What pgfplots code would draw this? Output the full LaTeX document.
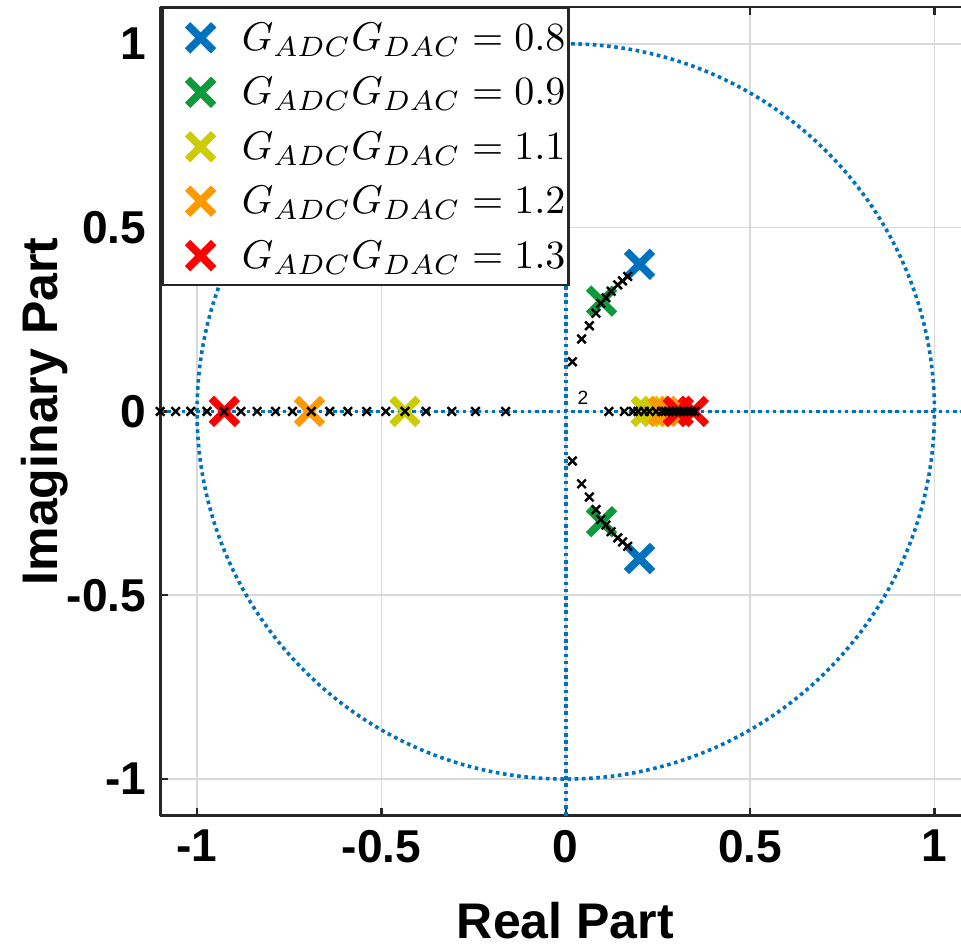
\documentclass[border=0pt]{standalone}
\usepackage{fontspec}
\setmainfont{Liberation Sans}
\usepackage{pgfplots}
\pgfplotsset{compat=1.18}
\definecolor{mblue}{HTML}{0072BD}
\definecolor{mgreen}{HTML}{0C9A3A}
\definecolor{myellow}{HTML}{CCCC00}
\definecolor{morange}{HTML}{FF9900}
\definecolor{mred}{HTML}{FF0000}
\tikzset{ref line/.style={mblue, line width=0.9pt, dash pattern=on 0.9pt off 0.9pt}}
\pgfplotsset{
  bigx/.style={only marks, mark=x, mark size=4.6pt, line width=1.9pt, color=#1},
  smallx/.style={only marks, mark=x, mark size=1.5pt, line width=0.6pt, color=black},
}
\begin{document}
\begin{tikzpicture}
\begin{axis}[
  scale only axis,
  width=200pt, height=202pt,
  xmin=-1.1, xmax=1.072, ymin=-1.1, ymax=1.1,
  axis x line*=box, axis y line*=left,
  axis line style={black!85, line width=0.7pt},
  y axis line style={-},
  xtick={-1,-0.5,0,0.5,1}, ytick={-1,-0.5,0,0.5,1},
  tick align=inside, major tick length=2pt,
  tick style={black!85, line width=0.6pt},
  grid=major, grid style={black!15, line width=0.4pt},
  /pgf/number format/assume math mode=true,
  ticklabel style={font=\fontsize{11.5}{13}\selectfont\bfseries},
  xlabel={Real Part}, ylabel={Imaginary Part},
  label style={font=\fontsize{12.5}{14}\selectfont\bfseries},
  xlabel style={at={(axis description cs:0.506,-0.13)}, anchor=center},
  ylabel style={at={(axis description cs:-0.144,0.5)}, anchor=center},
  legend style={at={(axis description cs:0.0015,1)}, anchor=north west,
    draw=black!85, line width=0.6pt, fill=white,
    inner xsep=0.8pt, inner ysep=0.6pt, column sep=5pt,
    font=\fontsize{9.85}{12}\selectfont,
    nodes={text height=8.7pt, text depth=2.5pt, inner ysep=1.2pt, inner xsep=0pt}},
  legend image code/.code={%
    \path[draw=none, fill=none] (0pt,0pt) -- (14pt,0pt);
    \draw[#1] plot coordinates {(8.7pt,0pt)};},
  legend cell align=left,
]
% unit circle and the two axes (zplane style)
\draw[ref line] (axis cs:0,0) ellipse [x radius=1, y radius=1];
\addplot[ref line, forget plot] coordinates {(-1.1,0) (1.072,0)};
\addplot[ref line, forget plot] coordinates {(0,-1.1) (0,1.1)};

% closed-loop poles for each gain
\addplot[bigx=mblue] coordinates {(0.2,0.4) (0.2,-0.4)};
\addlegendentry{$G_{ADC}G_{DAC}=0.8$}
\addplot[bigx=mgreen] coordinates {(0.097,0.30) (0.097,-0.30)};
\addlegendentry{$G_{ADC}G_{DAC}=0.9$}
\addplot[bigx=myellow] coordinates {(-0.436,0) (0.218,0) (0.245,0)};
\addlegendentry{$G_{ADC}G_{DAC}=1.1$}
\addplot[bigx=morange] coordinates {(-0.695,0) (0.264,0) (0.29,0)};
\addlegendentry{$G_{ADC}G_{DAC}=1.2$}
\addplot[bigx=mred] coordinates {(-0.926,0) (0.305,0) (0.346,0)};
\addlegendentry{$G_{ADC}G_{DAC}=1.3$}

% root locus samples
\addplot[smallx, forget plot] coordinates {
  (-1.1,0) (-1.058,0) (-1.017,0) (-0.973,0) (-0.927,0) (-0.881,0) (-0.837,0)
  (-0.787,0) (-0.741,0) (-0.69,0) (-0.640,0) (-0.591,0) (-0.540,0) (-0.488,0)
  (-0.436,0) (-0.379,0) (-0.309,0) (-0.245,0) (-0.163,0)
};
\addplot[smallx, forget plot] coordinates {
  (0.018,0.135) (0.043,0.197) (0.064,0.233) (0.082,0.267) (0.095,0.294)
  (0.109,0.309) (0.123,0.327) (0.141,0.344) (0.154,0.355) (0.168,0.367)
};
\addplot[smallx, forget plot] coordinates {
  (0.018,-0.135) (0.043,-0.197) (0.064,-0.233) (0.082,-0.267) (0.095,-0.294)
  (0.109,-0.309) (0.123,-0.327) (0.141,-0.344) (0.154,-0.355) (0.168,-0.367)
};
\addplot[smallx, forget plot] coordinates {
  (0.117,0) (0.159,0) (0.183,0) (0.196,0) (0.213,0) (0.227,0) (0.245,0)
  (0.26,0) (0.27,0) (0.28,0) (0.29,0) (0.30,0) (0.31,0) (0.32,0) (0.33,0)
  (0.34,0) (0.35,0)
};
\node[font=\fontsize{4.8}{5}\selectfont, anchor=base west, inner sep=0pt] at (axis cs:0.03,0.02) {2};
\end{axis}
\pgfresetboundingbox
\path ([shift={(-40pt,-32.75pt)}]current axis.south west)
  rectangle ([shift={(0pt,1.75pt)}]current axis.north east);
\end{tikzpicture}
\end{document}
